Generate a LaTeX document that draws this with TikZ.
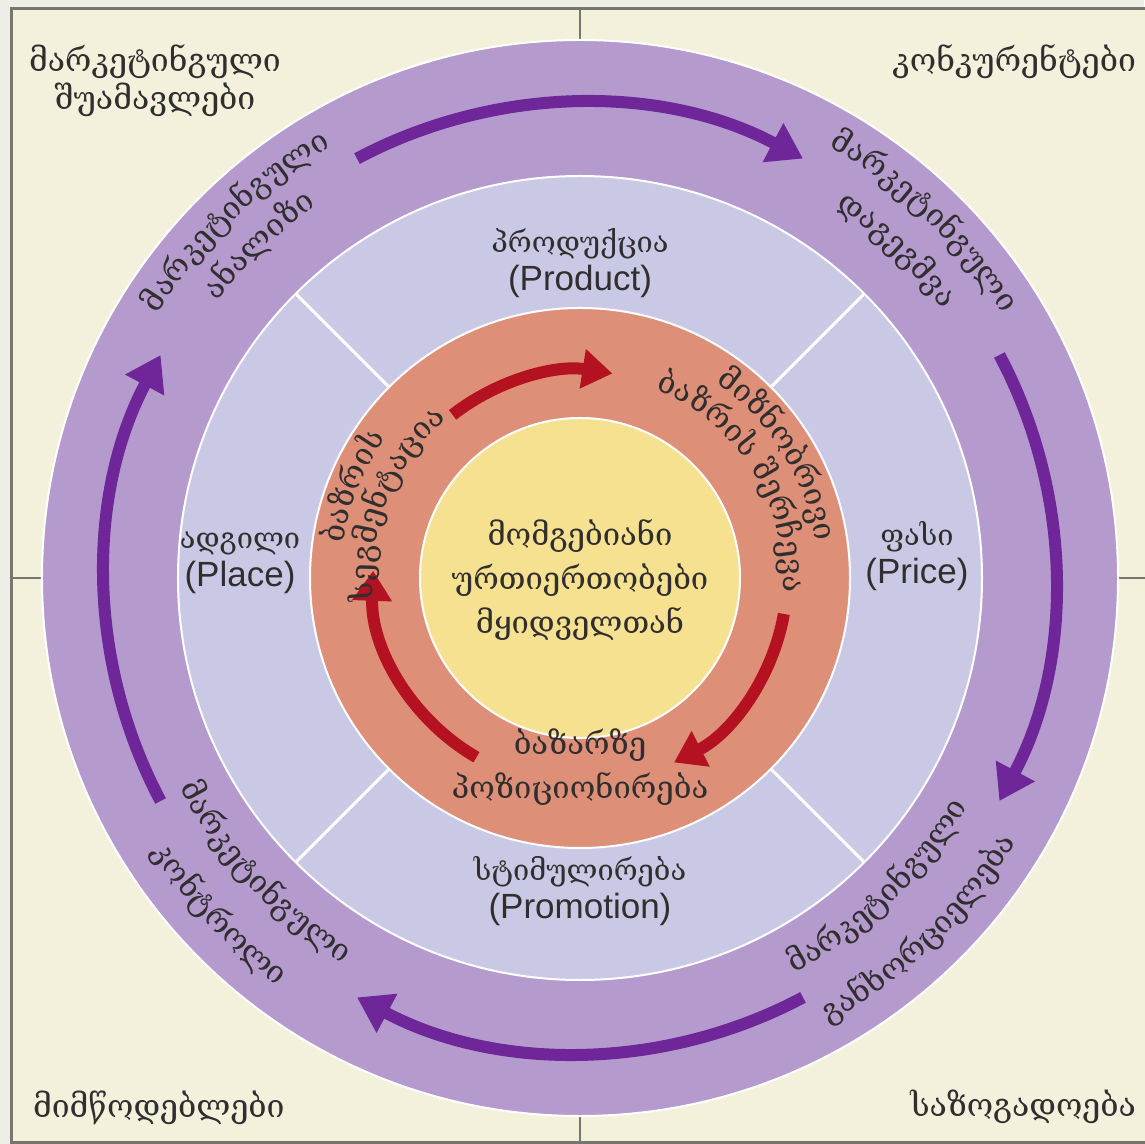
\documentclass[tikz,border=0pt]{standalone}
\usepackage{fontspec}
\setmainfont{Liberation Sans}
\newfontfamily\geo{DejaVu Serif}
\usetikzlibrary{arrows.meta,decorations.text}
\definecolor{mkpaper}{RGB}{243,241,219}
\definecolor{mkedge}{RGB}{238,237,230}
\definecolor{mkframe}{RGB}{118,118,110}
\definecolor{mkpurple}{RGB}{181,154,206}
\definecolor{mklilac}{RGB}{201,201,230}
\definecolor{mksalmon}{RGB}{222,143,120}
\definecolor{mkyellow}{RGB}{246,225,145}
\definecolor{mkviolet}{RGB}{110,38,152}
\definecolor{mkred}{RGB}{180,18,32}
\definecolor{mkink}{RGB}{48,46,46}
\newcommand{\geotext}{\geo\fontsize{15.5}{22}\selectfont\color{mkink}}
\newcommand{\geocorner}{\geo\fontsize{16}{19}\selectfont\color{mkink}}
\newcommand{\geosmall}{\geo\fontsize{14.5}{18}\selectfont\color{mkink}}

\begin{document}
\begin{tikzpicture}[
    x=0.5pt, y=0.5pt,
    disc/.style={draw=white, line width=1pt},
    divider/.style={draw=white, line width=1.5pt},
    cyclearrow/.style={-{Triangle[length=17pt,width=21pt]},line width=6pt,mkviolet},
    mixarrow/.style={-{Triangle[length=15pt,width=19pt]},line width=6pt,mkred},
    geolabel/.style={font=\geotext,align=center,text=mkink},
    cornerlabel/.style={font=\geocorner,align=center,text=mkink},
    mixlabel/.style={align=center,text=mkink,font=\fontsize{17.5}{19}\selectfont},
    arctext/.style={decorate,decoration={text along path,text align=center,text={|\geotext|#1}}}
  ]
    \useasboundingbox[fill=mkedge] (-580,-566) rectangle (564,578);
    \draw[mkframe,line width=1.5pt,fill=mkpaper] (-568.5,569) rectangle (575,-564);
    \draw[mkframe,line width=1pt] (0,569) -- (0,-564) (-568.5,0) -- (575,0);

    % rings
    \path[disc,fill=mkpurple] (0,0) circle[radius=538];
    \path[disc,fill=mklilac] (0,0) circle[radius=402];
    \foreach \a in {45,135,225,315}
      \draw[divider] (\a:270) -- (\a:402);
    \path[disc,fill=mksalmon] (0,0) circle[radius=270];
    \path[disc,fill=mkyellow] (0,0) circle[radius=160];

    % outer cycle
    \foreach \a in {90,0,-90,180}
      \draw[cyclearrow] (\a+28:475) arc[start angle=\a+28,end angle=\a-28,radius=475];
    \path[arctext={მარკეტინგული}] (174:498) arc[start angle=174,end angle=94,radius=498];
    \path[arctext={ანალიზი}] (174:456) arc[start angle=174,end angle=94,radius=456];
    \path[arctext={მარკეტინგული}] (86:498) arc[start angle=86,end angle=6,radius=498];
    \path[arctext={დაგეგმვა}] (86:451) arc[start angle=86,end angle=6,radius=451];
    \path[arctext={მარკეტინგული}] (-86:450) arc[start angle=-86,end angle=-6,radius=450];
    \path[arctext={განხორციელება}] (-86:510) arc[start angle=-86,end angle=-6,radius=510];
    \path[arctext={მარკეტინგული}] (-177:452) arc[start angle=-177,end angle=-97,radius=452];
    \path[arctext={კონტროლი}] (-177:508) arc[start angle=-177,end angle=-97,radius=508];

    % 4P
    \node[mixlabel] (product) at (0,315) {{\geosmall პროდუქცია}\\(Product)};
    \node[mixlabel] (price) at (337,22) {{\geosmall ფასი}\\(Price)};
    \node[mixlabel] (place) at (-340,15) {{\geosmall ადგილი}\\(Place)};
    \node[mixlabel] (promo) at (0,-313) {{\geosmall სტიმულირება}\\(Promotion)};

    % inner cycle
    \draw[mixarrow] (128:207) arc[start angle=128,end angle=81,radius=207];
    \draw[mixarrow] (-10:207) arc[start angle=-10,end angle=-63,radius=207];
    \draw[mixarrow] (240:207) arc[start angle=240,end angle=178,radius=207];
    \path[arctext={ბაზრის}] (218:239) arc[start angle=218,end angle=98,radius=239];
    \path[arctext={სეგმენტაცია}] (218:207) arc[start angle=218,end angle=98,radius=207];
    \path[arctext={მიზნობრივი}] (92:238) arc[start angle=92,end angle=-28,radius=238];
    \path[arctext={ბაზრის შერჩევა}] (92:203) arc[start angle=92,end angle=-28,radius=203];
    \node[geolabel] (positioning) at (0,-189) {ბაზარზე\\პოზიციონირება};
    \node[geolabel] (core) at (0,-2) {მომგებიანი\\ურთიერთობები\\მყიდველთან};

    % corners
    \node[cornerlabel,anchor=center] (intermediaries) at (-425,497) {მარკეტინგული\\შუამავლები};
    \node[cornerlabel,anchor=east] (competitors) at (563,516) {კონკურენტები};
    \node[cornerlabel,anchor=west] (suppliers) at (-554,-530) {მიმწოდებლები};
    \node[cornerlabel,anchor=east] (society) at (563,-529) {საზოგადოება};
  \end{tikzpicture}
\end{document}
